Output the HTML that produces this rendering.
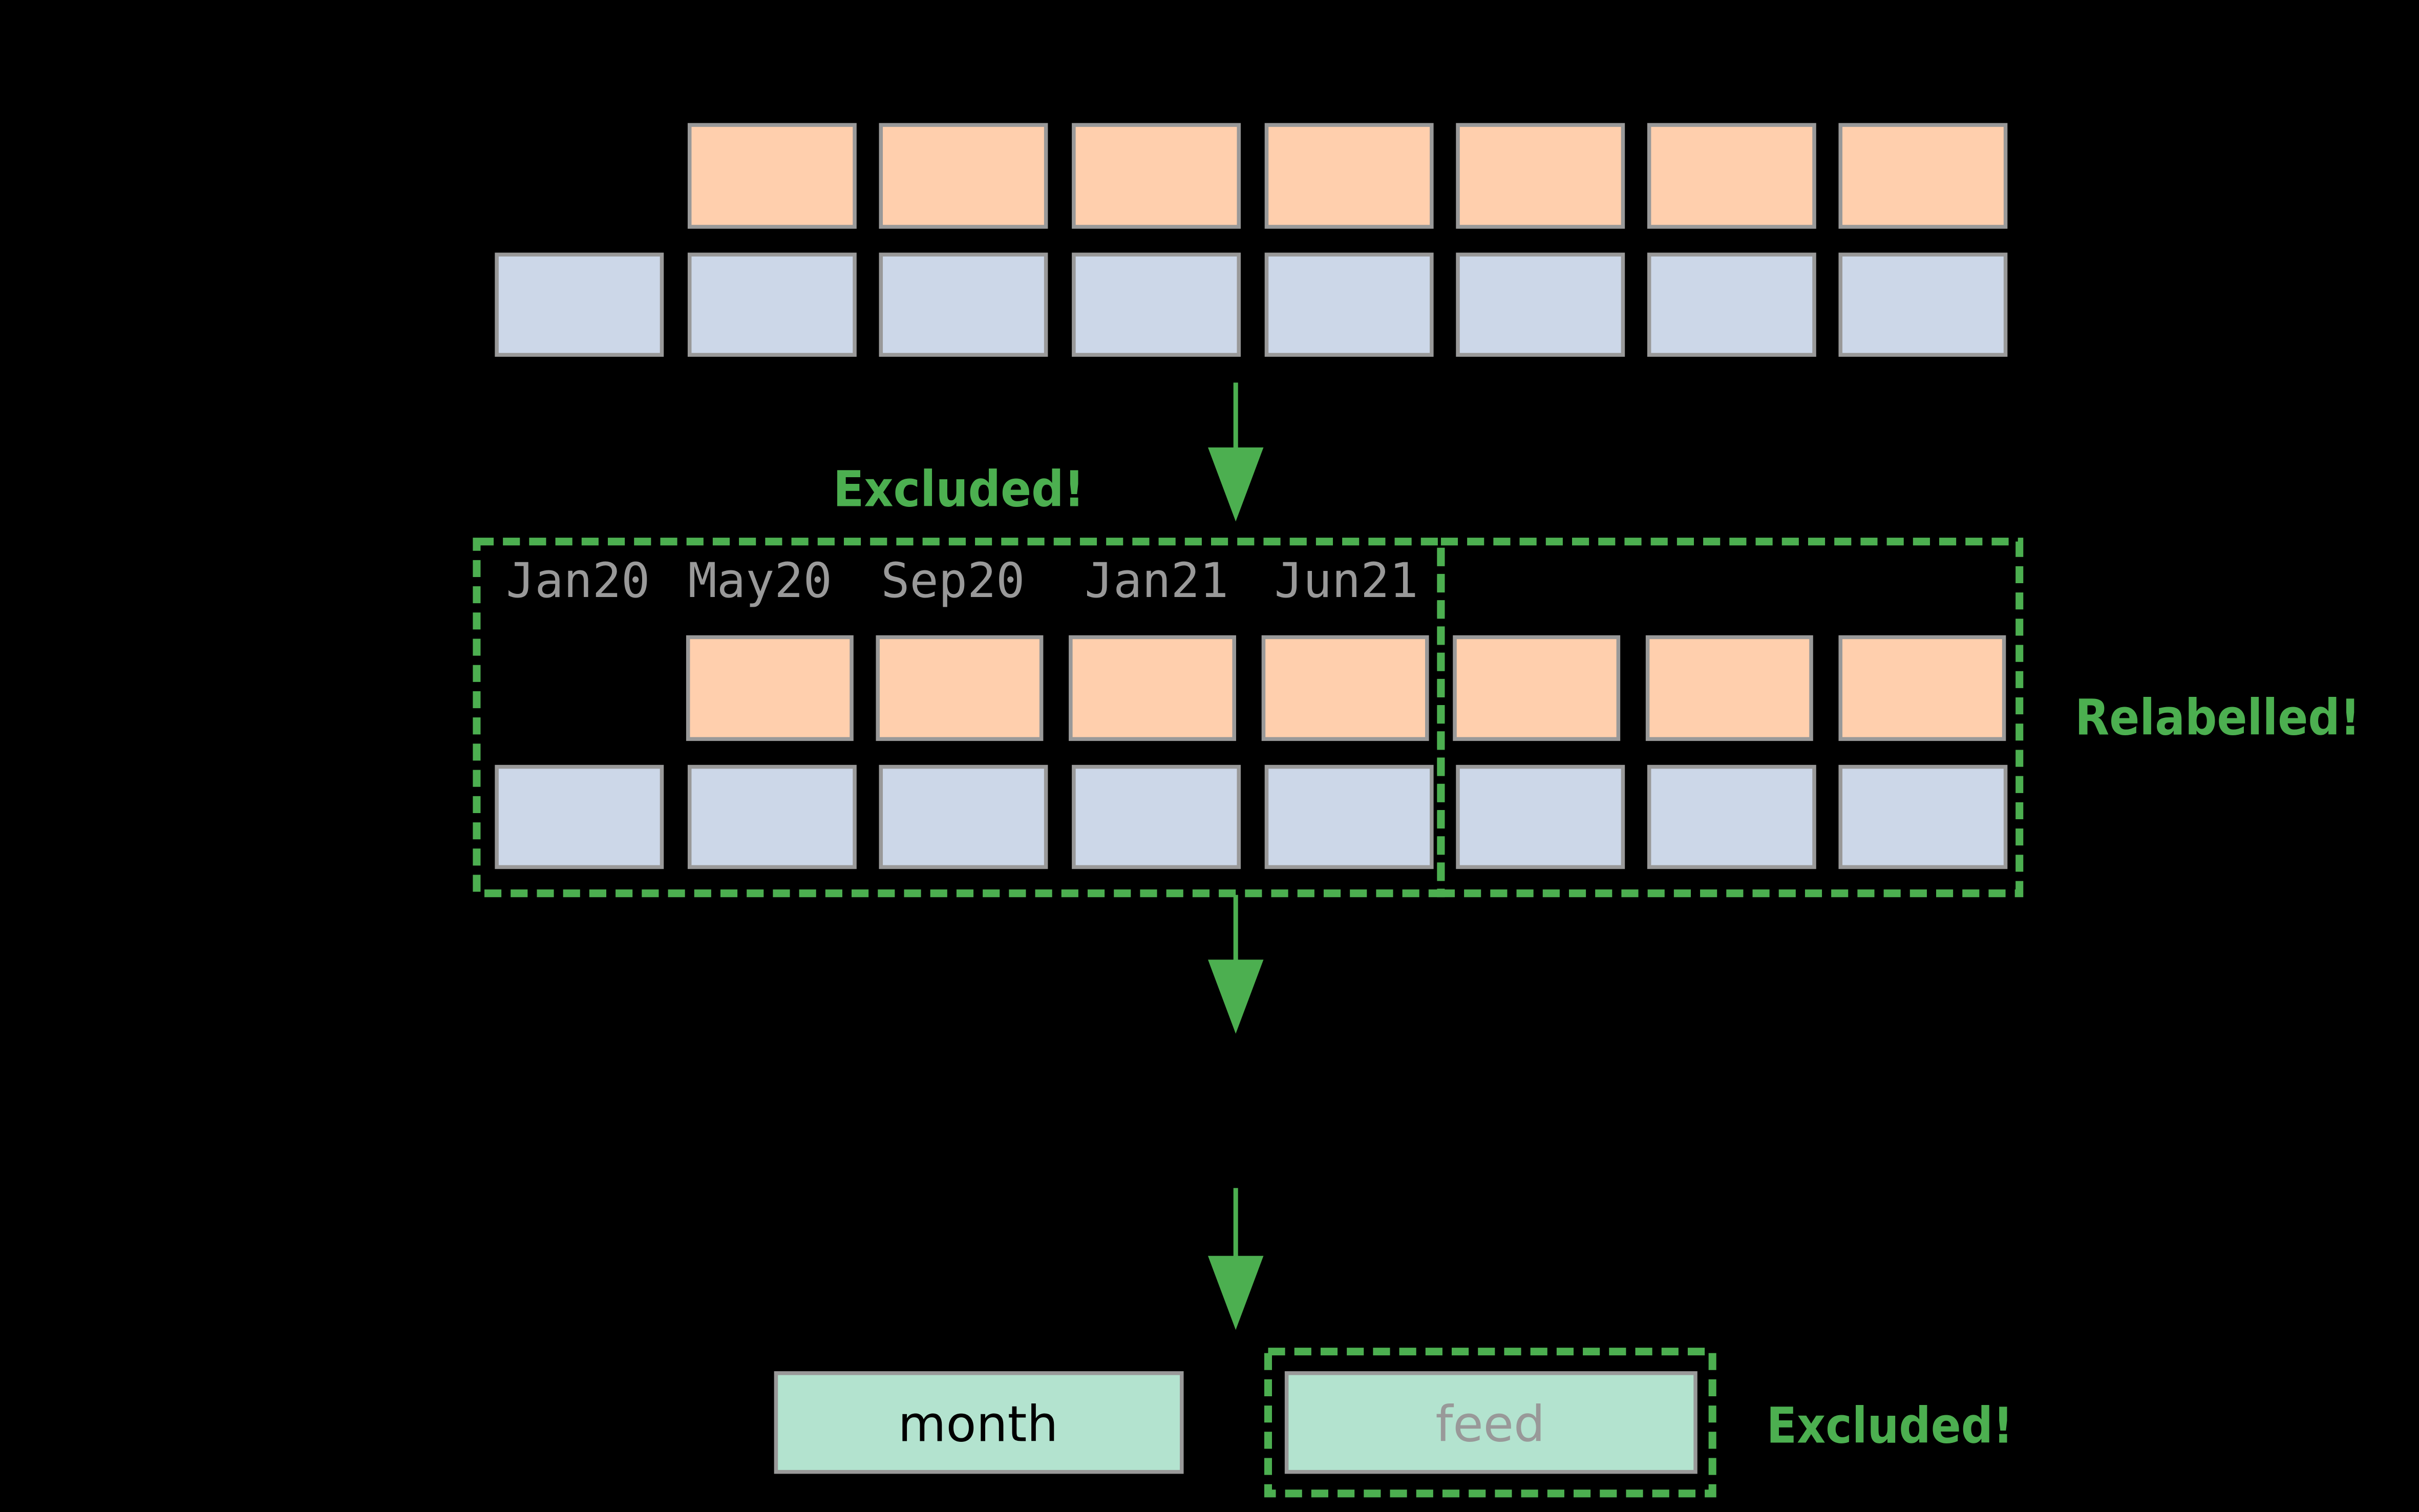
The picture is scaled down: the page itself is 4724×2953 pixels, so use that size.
<!DOCTYPE html>
<html><head><meta charset="utf-8"><style>
html,body{margin:0;padding:0;background:#000;}
svg{display:block;}
</style></head><body>
<svg width="4724" height="2953" viewBox="0 0 1568 980" preserveAspectRatio="none" xmlns="http://www.w3.org/2000/svg">
<rect width="1568" height="980" fill="#000"/>
<g id="g"></g>
</svg>
<script>
const xs1 = [447,571,696,821,945,1069,1193];
const xsB = [322,447,571,696,821,945,1069,1193];
const xs2 = [446,569,694,819,943,1068,1193];
const labels = ["Jan20","May20","Sep20","Jan21","Jun21"];
const labelX = [328,446,571,703,826];
const NS="http://www.w3.org/2000/svg";
const g=document.getElementById('g');
function el(t,a){const e=document.createElementNS(NS,t);for(const k in a)e.setAttribute(k,a[k]);g.appendChild(e);return e;}
function box(x,y,w,h,fill,name){const r=el('rect',{x:x,y:y,width:w,height:h,fill:fill,stroke:'#999','stroke-width':2.5});

}
xs1.forEach(x=>box(x,81,107,66,'#ffcfad','top-target-cell'));
xsB.forEach(x=>box(x,165,107,65,'#ccd7e8','top-feature-cell'));
xs2.forEach(x=>box(x,413,106,66,'#ffcfad','mid-target-cell'));
xsB.forEach(x=>box(x,497,107,65,'#ccd7e8','mid-feature-cell'));
labels.forEach((t,i)=>{const e=el('text',{x:labelX[i],y:387,fill:'#999','font-family':'DejaVu Sans Mono, Liberation Mono, monospace','font-size':31});e.textContent=t;

});
function dash(x,y,w,h,name){const r=el('rect',{x:x,y:y,width:w,height:h,fill:'none',stroke:'#4caf50','stroke-width':5,'stroke-dasharray':'11 6'});

}
dash(309,351,625,228,'excluded-region');
dash(934,351,375,228,'relabelled-region');
function arrow(x,y1,y2){const l=el('line',{x1:x,y1:y1,x2:x,y2:y2-40,stroke:'#4caf50','stroke-width':3});


const p=el('polygon',{points:`${x-18},${y2-48} ${x+18},${y2-48} ${x},${y2}`,fill:'#4caf50'});

}
arrow(801,248,338);arrow(801,580,670);arrow(801,770,862);
function txt(t,x,y,fill,size,name,anchor,len){const a={x:x,y:y,fill:fill,'font-size':size,'font-family':'DejaVu Sans, Liberation Sans, sans-serif','text-anchor':anchor||'start','font-weight':'bold'};
if(len){a.textLength=len;a.lengthAdjust='spacingAndGlyphs';}
const e=el('text',a);e.textContent=t;

return e;}
txt('Excluded!',540,328,'#4caf50',32,'excluded-label',null,163);
txt('Relabelled!',1345,476,'#4caf50',32,'relabelled-label',null,185);
txt('Excluded!',1145,935,'#4caf50',32,'excluded-feed-label',null,160);
box(503,890,263,64,'#b3e3cf','month-box');
box(834,890,265,64,'#b3e3cf','feed-box');
dash(822,876,288,92,'feed-excluded-region');
const m=txt('month',634,934,'#000',32,'month-text','middle');m.setAttribute('font-weight','normal');
const f=txt('feed',966,934,'#999',32,'feed-text','middle');f.setAttribute('font-weight','normal');
</script>
</body></html>
